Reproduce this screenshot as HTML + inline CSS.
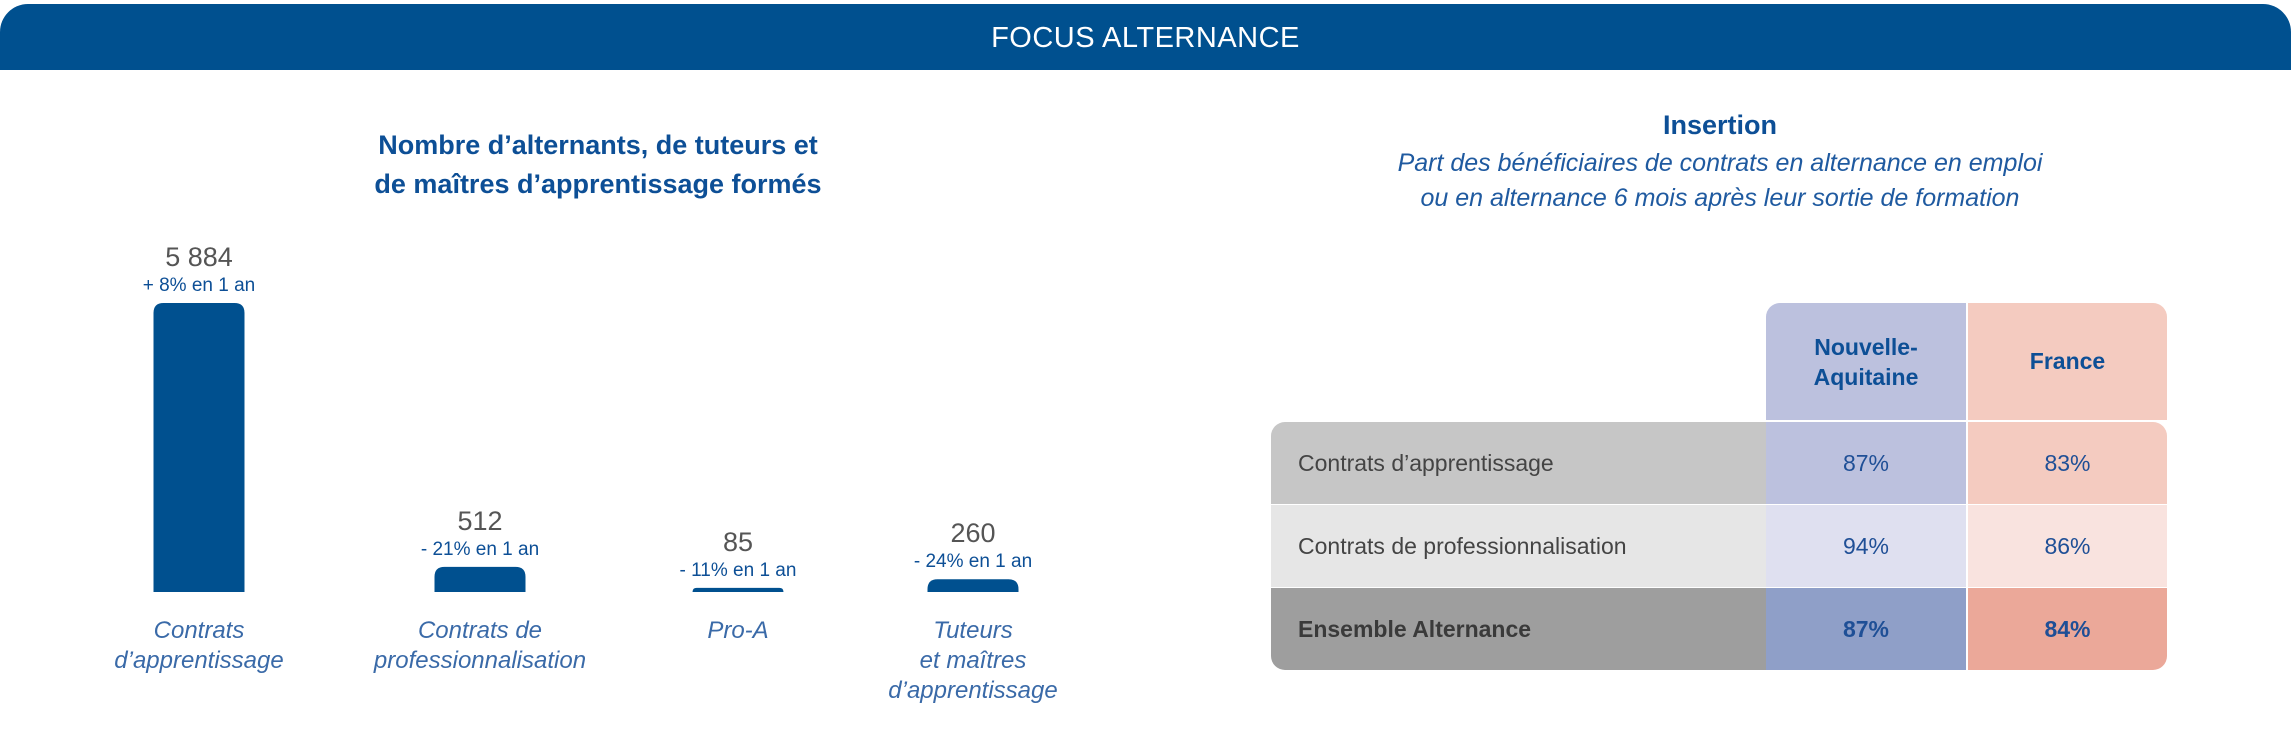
<!DOCTYPE html>
<html><head><meta charset="utf-8"><style>
body{margin:0;width:2291px;height:755px;background:#fff;font-family:"Liberation Sans",sans-serif;position:relative;overflow:hidden}
.abs{position:absolute}
</style></head><body>
<div class="abs" style="left:0;top:4px;width:2291px;height:66px;background:#00508f;border-radius:28px 28px 0 0"></div>
<div class="abs" style="left:0;top:4px;width:2291px;height:66px;line-height:68px;text-align:center;color:#fff;font-size:29px;letter-spacing:0.5px">FOCUS ALTERNANCE</div>

<div class="abs" style="left:298px;top:126px;width:600px;text-align:center;color:#0d4f96;font-weight:bold;font-size:27px;line-height:39px">Nombre d’alternants, de tuteurs et<br>de maîtres d’apprentissage formés</div>

<svg class="abs" style="left:0;top:0" width="1150" height="755" id="chart"></svg>
<script>
const categories=[["Contrats","d’apprentissage"],["Contrats de","professionnalisation"],["Pro-A"],["Tuteurs","et maîtres","d’apprentissage"]];
const values=[5884,512,85,260];
const valueLabels=["5 884","512","85","260"];
const changeLabels=["+ 8% en 1 an","- 21% en 1 an","- 11% en 1 an","- 24% en 1 an"];
const svg=document.getElementById('chart');
const NS="http://www.w3.org/2000/svg";
const centers=[199,480,738,973];
const baseY=592, maxH=289, maxV=5884, bw=91;
function y(v){return baseY-v/maxV*maxH;}
function mk(tag,attrs,txt){const e=document.createElementNS(NS,tag);for(const k in attrs)e.setAttribute(k,attrs[k]);if(txt!==undefined)e.textContent=txt;svg.appendChild(e);return e;}
values.forEach((v,i)=>{
  const cx=centers[i],top=y(v),h=baseY-top,r=Math.min(10,h);
  const p=mk('path',{d:`M${cx-bw/2},${baseY} V${top+r} Q${cx-bw/2},${top} ${cx-bw/2+r},${top} H${cx+bw/2-r} Q${cx+bw/2},${top} ${cx+bw/2},${top+r} V${baseY} Z`,fill:'#00508f'});
  
  
  const t=mk('text',{x:cx,y:top-37,'text-anchor':'middle','font-size':27,fill:'#555','font-family':'Liberation Sans'},valueLabels[i]);
  
  
  const c=mk('text',{x:cx,y:top-12,'text-anchor':'middle','font-size':19,fill:'#0d4f96','font-family':'Liberation Sans'},changeLabels[i]);
  
  
  categories[i].forEach((ln,j)=>{
    const l=mk('text',{x:cx,y:638+j*30,'text-anchor':'middle','font-size':24,'font-style':'italic',fill:'#3a6aa8','font-family':'Liberation Sans'},ln);
    
    
  });
});
</script>

<div class="abs" style="left:1420px;top:110px;width:600px;text-align:center;color:#0d4f96;font-weight:bold;font-size:27px">Insertion</div>
<div class="abs" style="left:1270px;top:146px;width:900px;text-align:center;color:#1f5aa0;font-style:italic;font-size:25px;line-height:35px">Part des bénéficiaires de contrats en alternance en emploi<br>ou en alternance 6 mois après leur sortie de formation</div>

<div class="abs" style="left:1766px;top:303px;width:200px;height:117px;background:#bcc1de;border-radius:14px 0 0 0;display:flex;align-items:center;justify-content:center;text-align:center;color:#0d4f96;font-weight:bold;font-size:23px;line-height:30px">Nouvelle-<br>Aquitaine</div>
<div class="abs" style="left:1968px;top:303px;width:199px;height:117px;background:#f4cbc0;border-radius:0 14px 0 0;display:flex;align-items:center;justify-content:center;color:#0d4f96;font-weight:bold;font-size:23px">France</div>

<div class="abs" style="left:1271px;top:422px;width:896px;height:248px;border-radius:14px;overflow:hidden;font-size:23px">
 <div style="position:absolute;left:0;top:0;width:896px;height:82px;display:flex">
  <div style="width:495px;background:#c6c6c6;color:#444;line-height:82px;padding-left:27px;box-sizing:border-box">Contrats d’apprentissage</div>
  <div style="width:200px;background:#bcc1de;color:#1f4f96;text-align:center;line-height:82px">87%</div>
  <div style="width:2px;background:#fff"></div>
  <div style="width:199px;background:#f4cbc0;color:#1f4f96;text-align:center;line-height:82px">83%</div>
 </div>
 <div style="position:absolute;left:0;top:83px;width:896px;height:82px;display:flex">
  <div style="width:495px;background:#e6e6e6;color:#444;line-height:82px;padding-left:27px;box-sizing:border-box">Contrats de professionnalisation</div>
  <div style="width:200px;background:#dfe0f0;color:#1f4f96;text-align:center;line-height:82px">94%</div>
  <div style="width:2px;background:#fff"></div>
  <div style="width:199px;background:#f9e3df;color:#1f4f96;text-align:center;line-height:82px">86%</div>
 </div>
 <div style="position:absolute;left:0;top:166px;width:896px;height:82px;display:flex;font-weight:bold">
  <div style="width:495px;background:#9e9e9e;color:#3a3a3a;line-height:82px;padding-left:27px;box-sizing:border-box">Ensemble Alternance</div>
  <div style="width:200px;background:#8f9fc8;color:#1f4f96;text-align:center;line-height:82px">87%</div>
  <div style="width:2px;background:#fff"></div>
  <div style="width:199px;background:#eba899;color:#1f4f96;text-align:center;line-height:82px">84%</div>
 </div>
</div>
</body></html>
